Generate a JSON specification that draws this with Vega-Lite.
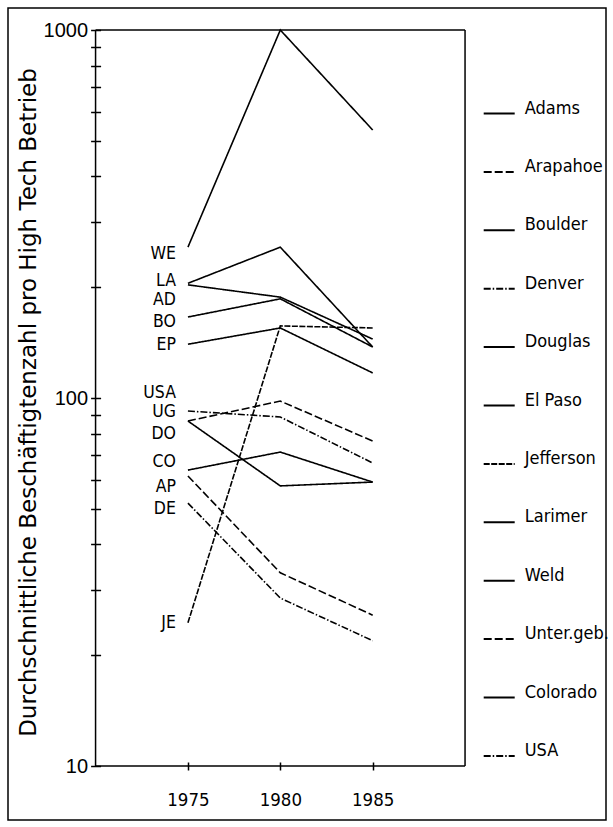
{
  "$schema": "https://vega.github.io/schema/vega-lite/v6.json",
  "width": 598,
  "height": 812,
  "autosize": {"type": "none"},
  "padding": {"left": 8, "top": 8, "right": 7, "bottom": 7},
  "background": "white",
  "config": {"view": {"stroke": "black", "strokeWidth": 1.5}},
  "datasets": {
    "frame": [
      {"year": 1970, "year2": 1970, "value": 10, "value2": 1000},
      {"year": 1990, "year2": 1990, "value": 10, "value2": 1000},
      {"year": 1970, "year2": 1990, "value": 10, "value2": 10},
      {"year": 1970, "year2": 1990, "value": 1000, "value2": 1000}
    ],
    "series": [
      {"name": "Weld", "year": 1975, "value": 257},
      {"name": "Weld", "year": 1980, "value": 1000},
      {"name": "Weld", "year": 1985, "value": 535},
      {"name": "Larimer", "year": 1975, "value": 205},
      {"name": "Larimer", "year": 1980, "value": 257},
      {"name": "Larimer", "year": 1985, "value": 137.6},
      {"name": "Adams", "year": 1975, "value": 203},
      {"name": "Adams", "year": 1980, "value": 188},
      {"name": "Adams", "year": 1985, "value": 144.6},
      {"name": "Boulder", "year": 1975, "value": 166},
      {"name": "Boulder", "year": 1980, "value": 186},
      {"name": "Boulder", "year": 1985, "value": 137.6},
      {"name": "El Paso", "year": 1975, "value": 140},
      {"name": "El Paso", "year": 1980, "value": 155},
      {"name": "El Paso", "year": 1985, "value": 117},
      {"name": "Jefferson", "year": 1975, "value": 24.5},
      {"name": "Jefferson", "year": 1980, "value": 157},
      {"name": "Jefferson", "year": 1985, "value": 155},
      {"name": "USA", "year": 1975, "value": 92.2},
      {"name": "USA", "year": 1980, "value": 88.8},
      {"name": "USA", "year": 1985, "value": 66.6},
      {"name": "Unter.geb.", "year": 1975, "value": 86.6},
      {"name": "Unter.geb.", "year": 1980, "value": 98.1},
      {"name": "Unter.geb.", "year": 1985, "value": 76.4},
      {"name": "Douglas", "year": 1975, "value": 86.6},
      {"name": "Douglas", "year": 1980, "value": 57.7},
      {"name": "Douglas", "year": 1985, "value": 59.1},
      {"name": "Colorado", "year": 1975, "value": 63.7},
      {"name": "Colorado", "year": 1980, "value": 71.3},
      {"name": "Colorado", "year": 1985, "value": 59.1},
      {"name": "Arapahoe", "year": 1975, "value": 61.4},
      {"name": "Arapahoe", "year": 1980, "value": 33.5},
      {"name": "Arapahoe", "year": 1985, "value": 25.7},
      {"name": "Denver", "year": 1975, "value": 51.8},
      {"name": "Denver", "year": 1980, "value": 28.6},
      {"name": "Denver", "year": 1985, "value": 21.9}
    ],
    "labels": [
      {"code": "WE", "year": 1975, "value": 246},
      {"code": "LA", "year": 1975, "value": 208},
      {"code": "AD", "year": 1975, "value": 184.7},
      {"code": "BO", "year": 1975, "value": 160.9},
      {"code": "EP", "year": 1975, "value": 139.3},
      {"code": "USA", "year": 1975, "value": 103.2},
      {"code": "UG", "year": 1975, "value": 91.6},
      {"code": "DO", "year": 1975, "value": 79.9},
      {"code": "CO", "year": 1975, "value": 67},
      {"code": "AP", "year": 1975, "value": 57.3},
      {"code": "DE", "year": 1975, "value": 49.9},
      {"code": "JE", "year": 1975, "value": 24.5}
    ]
  },
  "encoding": {
    "x": {
      "field": "year", "type": "quantitative",
      "scale": {"domain": [1965.26, 1997.63], "nice": false, "zero": false},
      "axis": {
        "values": [1975, 1980, 1985], "format": "d", "orient": "bottom", "offset": -58,
        "domain": false, "grid": false, "tickSize": 8, "tickWidth": 1.5, "tickColor": "black",
        "labelFont": "DejaVu Sans Condensed, Roboto, sans-serif", "labelFontSize": 18.5, "labelColor": "black",
        "labelPadding": 20, "title": null
      }
    },
    "y": {
      "field": "value", "type": "quantitative",
      "scale": {"type": "log", "domain": [7.134, 1147.6], "nice": false},
      "axis": {
        "values": [10, 20, 30, 40, 50, 60, 70, 80, 90, 100, 200, 300, 400, 500, 600, 700, 800, 900, 1000],
        "labelExpr": "datum.value == 10 || datum.value == 100 || datum.value == 1000 ? datum.label : ''",
        "format": "d",
        "orient": "left", "offset": -92.6, "domain": false, "grid": false,
        "tickSize": 10, "tickWidth": 1.5, "tickColor": "black",
        "labelFont": "Liberation Sans", "labelFontSize": 20, "labelColor": "black",
        "labelPadding": 3, "labelOverlap": false,
        "title": "Durchschnittliche Beschäftigtenzahl pro High Tech Betrieb",
        "titleFont": "DejaVu Sans", "titleFontSize": 23, "titleFontWeight": "normal",
        "titleColor": "black", "titleAngle": -90, "titleAlign": "center", "titleBaseline": "middle",
        "titleX": -72.6, "titleY": 394
      }
    }
  },
  "layer": [
    {
      "data": {"name": "frame"},
      "mark": {"type": "rule", "color": "black", "strokeWidth": 1.5},
      "encoding": {
        "x2": {"field": "year2"},
        "y2": {"field": "value2"}
      }
    },
    {
      "data": {"name": "series"},
      "mark": {"type": "line", "color": "black", "strokeWidth": 1.6},
      "encoding": {
        "strokeDash": {
          "field": "name", "type": "nominal",
          "scale": {
            "domain": ["Adams", "Arapahoe", "Boulder", "Denver", "Douglas", "El Paso", "Jefferson", "Larimer", "Weld", "Unter.geb.", "Colorado", "USA"],
            "range": [[1, 0], [8, 3], [1, 0], [7, 2, 1.5, 2], [1, 0], [1, 0], [6, 1.5], [1, 0], [1, 0], [8, 3], [1, 0], [7, 2, 1.5, 2]]
          },
          "legend": {
            "orient": "none", "legendX": 474.7, "legendY": 89, "title": null, "padding": 0,
            "symbolType": "stroke", "symbolSize": 961, "symbolStrokeWidth": 2, "symbolStrokeColor": "black",
            "labelFont": "DejaVu Sans Condensed, Roboto, sans-serif", "labelFontSize": 18, "labelColor": "black",
            "labelBaseline": "alphabetic", "labelOffset": 9, "rowPadding": 37.4, "labelLimit": 200
          }
        }
      }
    },
    {
      "data": {"name": "labels"},
      "mark": {"type": "text", "align": "right", "baseline": "middle", "dx": -12, "font": "DejaVu Sans Condensed, Roboto, sans-serif", "fontSize": 17.5, "color": "black"},
      "encoding": {
        "text": {"field": "code"}
      }
    }
  ]
}
